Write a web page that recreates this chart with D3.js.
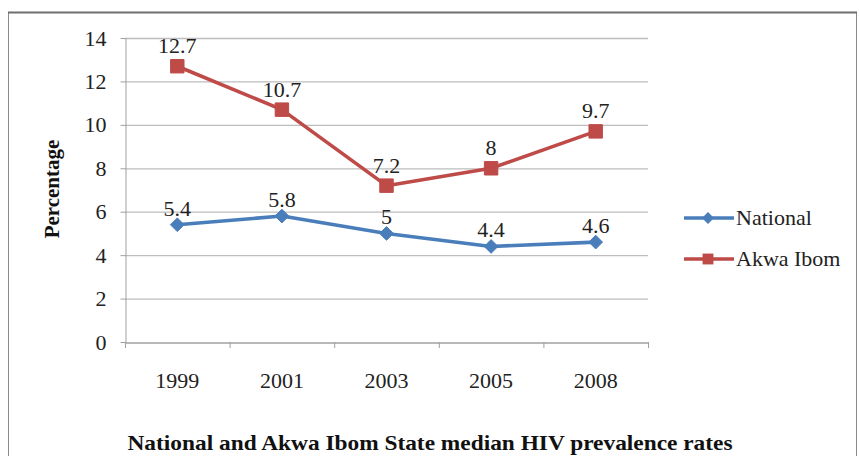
<!DOCTYPE html>
<html><head><meta charset="utf-8">
<script src="https://cdn.jsdelivr.net/npm/d3@7"></script>
<style>body{margin:0;background:#fff;} svg{display:block;}</style>
</head><body>
<svg id="c" width="859" height="456"></svg>
<script>
const years = ["1999","2001","2003","2005","2008"];
const national = [5.4, 5.8, 5.0, 4.4, 4.6];
const akwaIbom = [12.7, 10.7, 7.2, 8.0, 9.7];
const yTicks = [0,2,4,6,8,10,12,14];
const seriesNames = ["National","Akwa Ibom"];
const colors = ["#4a7ebb","#be4b48"];

const svg = d3.select("#c");
const font = "Liberation Serif, Times New Roman, serif";
// frame
svg.append("rect").attr("x",8.5).attr("y",12.5).attr("width",848).attr("height",460)
  .attr("fill","#fff").attr("stroke","#8a8a8a").attr("stroke-width",1);
svg.append("line").attr("x1",8).attr("x2",857).attr("y1",12.5).attr("y2",12.5).attr("stroke","#6f6f6f").attr("stroke-width",2);

const L=125, R=648, T=38, B=342;
const x = d3.scaleBand().domain(years).range([L,R]);
const y = d3.scaleLinear().domain([0,14]).range([B,T]);

// gridlines
svg.append("g").selectAll("line").data(yTicks.filter(d=>d>0)).join("line")
  .attr("x1",L).attr("x2",R).attr("y1",d=>y(d)+0.5).attr("y2",d=>y(d)+0.5)
  .attr("stroke","#bdbdbd").attr("stroke-width",1.3);

// y axis
const ya = svg.append("g").attr("transform",`translate(${L+0.5},0)`)
  .call(d3.axisLeft(y).tickValues(yTicks).tickSize(5).tickPadding(14).tickSizeOuter(0));
ya.attr("font-family",font);
ya.select(".domain").attr("stroke","#a0a0a0");
ya.selectAll(".tick line").attr("stroke","#a0a0a0");
ya.selectAll("text").attr("font-family",font).attr("font-size",22).attr("fill","#222");

// x axis
const xa = svg.append("g").attr("transform",`translate(0,${B+0.5})`)
  .call(d3.axisBottom(x).tickSize(0).tickPadding(30));
xa.attr("font-family",font);
xa.select(".domain").attr("stroke","#a0a0a0").attr("stroke-width",1.3);
xa.selectAll("text").attr("font-family",font).attr("font-size",22).attr("fill","#222");
svg.append("g").selectAll("line").data(d3.range(years.length+1)).join("line")
  .attr("x1",i=>L+i*x.step()+0.5).attr("x2",i=>L+i*x.step()+0.5)
  .attr("y1",B).attr("y2",B+6).attr("stroke","#a0a0a0");

const data = [national, akwaIbom];
const labelOffset = [9, 13];
const line = d3.line().x((d,i)=>x(years[i])+x.bandwidth()/2).y(d=>y(d));
data.forEach((vals,s)=>{
  svg.append("path").datum(vals).attr("d",line).attr("fill","none")
    .attr("stroke",colors[s]).attr("stroke-width",3.6).attr("stroke-linejoin","round");
  const sym = s===0 ? d3.symbol().type(d3.symbolDiamond2).size(120) : d3.symbol().type(d3.symbolSquare2).size(230);
  svg.append("g").selectAll("path").data(vals).join("path")
    .attr("transform",(d,i)=>`translate(${x(years[i])+x.bandwidth()/2},${y(d)})`)
    .attr("d",sym).attr("fill",colors[s]).attr("stroke",colors[s]).attr("stroke-width",1);
  svg.append("g").selectAll("text").data(vals).join("text")
    .attr("x",(d,i)=>x(years[i])+x.bandwidth()/2).attr("y",d=>y(d)-labelOffset[s])
    .attr("text-anchor","middle").attr("font-family",font).attr("font-size",22).attr("fill","#222")
    .text(d=>d3.format("")(d));
});

// y title
svg.append("text").attr("transform","translate(59,189) rotate(-90)")
  .attr("text-anchor","middle").attr("font-family",font).attr("font-weight","bold")
  .attr("font-size",21).attr("fill","#111").text("Percentage");

// legend
seriesNames.forEach((n,s)=>{
  const ly = 218 + s*41;
  const g = svg.append("g");
  g.append("line").attr("x1",684).attr("x2",734).attr("y1",ly).attr("y2",ly)
    .attr("stroke",colors[s]).attr("stroke-width",3.6);
  const sym = s===0 ? d3.symbol().type(d3.symbolDiamond2).size(90) : d3.symbol().type(d3.symbolSquare2).size(150);
  g.append("path").attr("transform",`translate(708,${ly})`).attr("d",sym).attr("fill",colors[s]);
  g.append("text").attr("x",736).attr("y",ly+7).attr("font-family",font).attr("font-size",22)
    .attr("fill","#222").text(n);
});

// bottom title
svg.append("text").attr("x",430).attr("y",450).attr("text-anchor","middle")
  .attr("font-family",font).attr("font-weight","bold").attr("font-size",21).attr("fill","#111")
  .attr("textLength",605).attr("lengthAdjust","spacingAndGlyphs")
  .text("National and Akwa Ibom State median HIV prevalence rates");
</script>
</body></html>
